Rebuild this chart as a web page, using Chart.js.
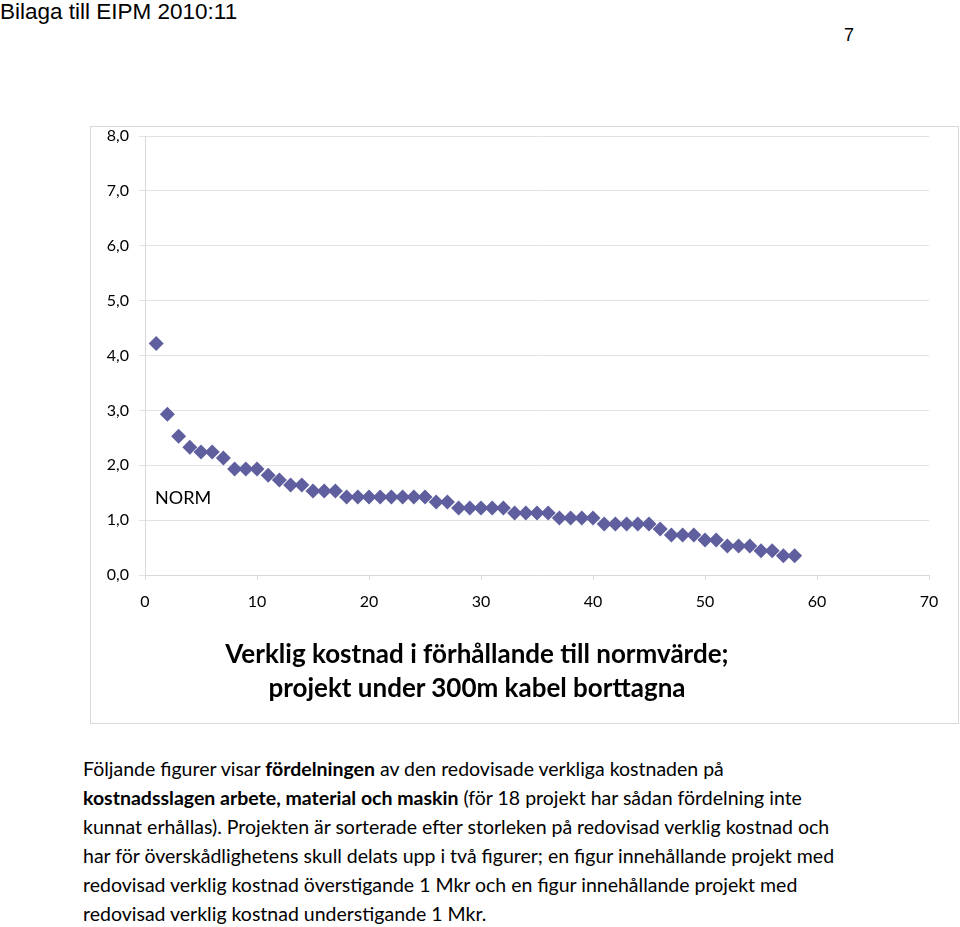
<!DOCTYPE html>
<html>
<head>
<meta charset="utf-8">
<script src="https://cdn.jsdelivr.net/npm/chart.js@4.4.1/dist/chart.umd.min.js"></script>
<style>
  html, body { margin: 0; padding: 0; background: #fff; }
  body { width: 960px; height: 927px; position: relative; overflow: hidden; }
  .header { position: absolute; left: 0; top: -1px; font-family: "Liberation Sans", Arial, sans-serif; font-size: 22.5px; color: #000; }
  .pagenr { position: absolute; left: 844px; top: 25px; font-family: "Liberation Sans", Arial, sans-serif; font-size: 18px; color: #000; }
  .chartBox { position: absolute; left: 90px; top: 126px; width: 869px; height: 598px; box-sizing: border-box; border: 1px solid #d9d9d9; }
  .chartWrap { position: absolute; left: 90px; top: 126px; width: 868px; height: 597px; }
  .titel { position: absolute; left: 177px; width: 600px; top: 636px; text-align: center; font-family: Lato, "Open Sans", sans-serif; font-weight: bold; font-size: 26px; line-height: 34px; color: #000; white-space: nowrap; }
  .body { position: absolute; left: 83px; top: 754px; font-family: Lato, "Open Sans", sans-serif; font-size: 19.5px; line-height: 29px; color: #000; white-space: nowrap; }
</style>
</head>
<body>
<div class="header">Bilaga till EIPM 2010:11</div>
<div class="pagenr">7</div>
<div class="chartBox"></div>
<div class="chartWrap"><canvas id="chart"></canvas></div>
<div class="titel">Verklig kostnad i förhållande till normvärde;<br>projekt under 300m kabel borttagna</div>
<div class="body">
Följande figurer visar <b>fördelningen</b> av den redovisade verkliga kostnaden på<br>
<b>kostnadsslagen arbete, material och maskin</b> (för 18 projekt har sådan fördelning inte<br>
kunnat erhållas). Projekten är sorterade efter storleken på redovisad verklig kostnad och<br>
har för överskådlighetens skull delats upp i två figurer; en figur innehållande projekt med<br>
redovisad verklig kostnad överstigande 1 Mkr och en figur innehållande projekt med<br>
redovisad verklig kostnad understigande 1 Mkr.
</div>
<script>
// projekt (sorterade) och kvot verklig kostnad / normvärde
const projekt = [1, 2, 3, 4, 5, 6, 7, 8, 9, 10, 11, 12, 13, 14, 15, 16, 17, 18, 19, 20,
  21, 22, 23, 24, 25, 26, 27, 28, 29, 30, 31, 32, 33, 34, 35, 36, 37, 38, 39, 40,
  41, 42, 43, 44, 45, 46, 47, 48, 49, 50, 51, 52, 53, 54, 55, 56, 57, 58]
const kvot = [4.22, 2.93, 2.53, 2.33, 2.24, 2.24, 2.13, 1.93, 1.93, 1.93,
  1.82, 1.73, 1.64, 1.64, 1.53, 1.53, 1.53, 1.42, 1.42, 1.42,
  1.42, 1.42, 1.42, 1.42, 1.42, 1.33, 1.33, 1.22, 1.22, 1.22,
  1.22, 1.22, 1.13, 1.13, 1.13, 1.13, 1.04, 1.04, 1.04, 1.04,
  0.93, 0.93, 0.93, 0.93, 0.93, 0.84, 0.73, 0.73, 0.73, 0.64,
  0.64, 0.53, 0.53, 0.53, 0.44, 0.44, 0.35, 0.35]
const xTicks = [0, 10, 20, 30, 40, 50, 60, 70]
const yTicks = [0, 1, 2, 3, 4, 5, 6, 7, 8]
const normText = 'NORM'
const normPos = { x: 0.9, y: 1.4 }

const punkter = projekt.map((p, i) => ({ x: p, y: kvot[i] }))

// etikett "NORM" i diagrammet
const normPlugin = {
  id: 'normText',
  afterDatasetsDraw(chart) {
    const { ctx, scales } = chart
    ctx.save()
    ctx.font = '18px Lato, "Open Sans", sans-serif'
    ctx.fillStyle = '#000'
    ctx.textBaseline = 'middle'
    ctx.textAlign = 'left'
    ctx.fillText(normText, scales.x.getPixelForValue(normPos.x), scales.y.getPixelForValue(normPos.y))
    ctx.restore()
  }
}

const tickFont = { family: 'Lato, "Open Sans", sans-serif', size: 16 }

new Chart(document.getElementById('chart').getContext('2d'), {
  type: 'scatter',
  data: {
    datasets: [{
      label: 'kvot',
      data: punkter,
      pointStyle: 'rectRot',
      pointRadius: 7.5,
      pointHoverRadius: 7.5,
      backgroundColor: '#5f5fa0',
      borderColor: '#5f5fa0',
      borderWidth: 0
    }]
  },
  options: {
    responsive: true,
    maintainAspectRatio: false,
    animation: false,
    layout: { padding: { left: 0, right: 29, top: 0, bottom: 85 } },
    plugins: {
      legend: { display: false },
      tooltip: { enabled: false },
      title: { display: false }
    },
    scales: {
      x: {
        type: 'linear',
        min: 0,
        max: 70,
        afterBuildTicks(scale) { scale.ticks = xTicks.map(v => ({ value: v })) },
        afterFit(scale) { scale.height = 63 },
        grid: { drawOnChartArea: false, drawTicks: true, tickLength: 5, color: '#d9d9d9' },
        border: { color: '#d9d9d9' },
        ticks: { color: '#000', font: tickFont, padding: 12, maxRotation: 0 }
      },
      y: {
        min: 0,
        max: 8,
        afterBuildTicks(scale) { scale.ticks = yTicks.map(v => ({ value: v })) },
        afterFit(scale) {
          scale.width = 55
          scale.paddingTop = 10
          scale.paddingBottom = 10
        },
        grid: { color: '#e3e3e3', tickLength: 6 },
        border: { color: '#d9d9d9' },
        ticks: {
          color: '#000',
          font: tickFont,
          padding: 10,
          callback: v => v.toFixed(1).replace('.', ',')
        }
      }
    }
  },
  plugins: [normPlugin]
})
</script>
</body>
</html>
